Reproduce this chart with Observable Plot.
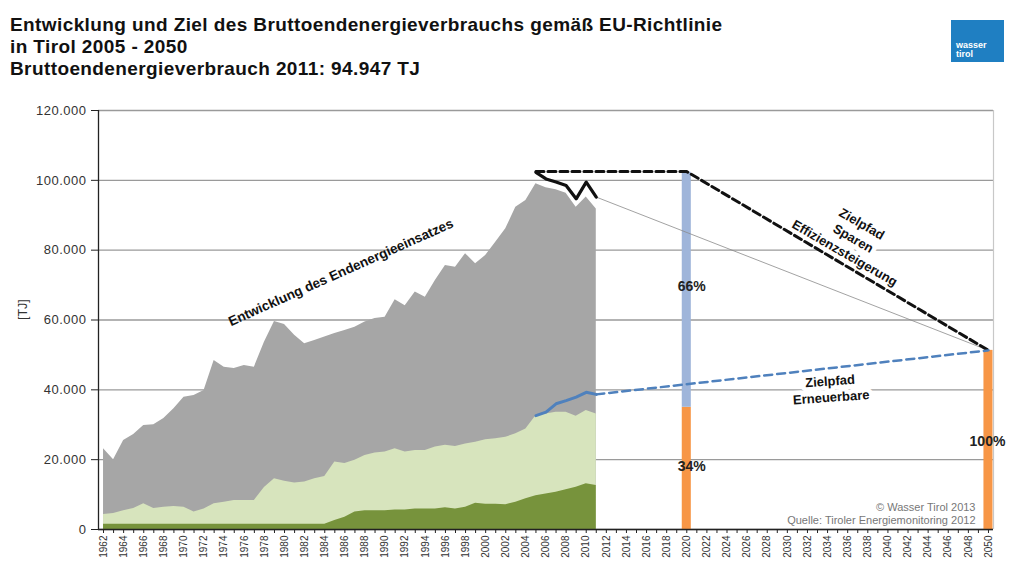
<!DOCTYPE html>
<html>
<head>
<meta charset="utf-8">
<script src="https://cdn.jsdelivr.net/npm/d3@7"></script>
<script src="https://cdn.jsdelivr.net/npm/@observablehq/plot@0.6"></script>
<style>
  html, body { margin: 0; padding: 0; background: #fff; }
  #wrap { position: relative; width: 1010px; height: 565px; overflow: hidden; font-family: "Liberation Sans", Arial, sans-serif; }
  #title { position: absolute; left: 10px; top: 14px; font-size: 19px; letter-spacing: 0.4px; line-height: 22.2px; font-weight: bold; color: #111; }
  #logo { position: absolute; left: 951px; top: 20px; width: 53px; height: 42px; background: #1f7fc2; }
  #logo span { position: absolute; left: 5px; top: 21px; color: #fff; font-size: 9px; line-height: 8.5px; font-weight: bold; }
  #chart { position: absolute; left: 0; top: 90px; }
  g[aria-label="y-axis tick label"] text { letter-spacing: 0.5px; }
</style>
</head>
<body>
<div id="wrap">
  <div id="title">Entwicklung und Ziel des Bruttoendenergieverbrauchs gemäß EU-Richtlinie<br>in Tirol 2005 - 2050<br>Bruttoendenergieverbrauch 2011: 94.947 TJ</div>
  <div id="logo"><span>wasser<br>tirol</span></div>
  <div id="chart"></div>
</div>
<script>
// ---- data ----
const years = [1962,1963,1964,1965,1966,1967,1968,1969,1970,1971,1972,1973,1974,1975,1976,1977,1978,1979,1980,1981,1982,1983,1984,1985,1986,1987,1988,1989,1990,1991,1992,1993,1994,1995,1996,1997,1998,1999,2000,2001,2002,2003,2004,2005,2006,2007,2008,2009,2010,2011];
const totalUse = [23100,20000,25500,27200,29800,30000,31800,34600,37900,38400,39800,48400,46500,46100,47000,46500,53600,59600,58700,55600,53200,54100,55100,56100,57000,57900,59400,60400,60800,65800,64100,68000,66500,71300,75600,75100,79000,76100,78500,82300,86100,92300,94200,99000,97900,97300,96300,92300,95200,91800];
const lightGreen = [4300,4600,5400,6000,7400,6000,6400,6600,6400,5000,5900,7400,7800,8300,8300,8300,12000,14500,13800,13300,13600,14500,15200,19300,18900,19800,21200,21900,22200,23100,22200,22600,22600,23600,24100,23800,24500,25000,25700,26000,26400,27400,28800,32600,33100,33600,33600,32400,34100,33100];
const darkGreen = [1500,1500,1500,1500,1500,1500,1500,1500,1500,1500,1500,1500,1500,1500,1500,1500,1500,1500,1500,1500,1500,1500,1500,2600,3500,5000,5400,5400,5400,5600,5600,5900,5900,5900,6200,5900,6400,7500,7200,7200,7100,7800,8800,9700,10200,10700,11400,12100,13100,12600];

const recentYears = [2005,2006,2007,2008,2009,2010,2011];
const consumptionLine = [102300,100400,99500,98500,94700,99500,95200];
const renewablesLine = [32600,33600,36000,36900,37900,39300,38700];

const efficiencyPathYears = [2005,2020,2050];
const efficiencyPathValues = [102500,102500,51300];
const trendYears = [2011,2050];
const trendValues = [95200,51300];
const renewablePathYears = [2011,2050];
const renewablePathValues = [38700,51300];

const barYears = [2020,2020,2050];
const barLow = [0,35000,0];
const barHigh = [35000,102300,51300];
const barKind = ["renew","saving","renew"];

const pctLabels = ["66%","34%","100%"];
const pctYears = [2020.5,2020.5,2049.9];
const pctValues = [69600,18000,25200];

const yTicks = [0,20000,40000,60000,80000,100000,120000];
const xDomain = [1961.5, 2050.5];
const axisYears = d3.range(1962, 2051);

// ---- tables ----
const history = years.map((y,i) => ({year: y, total: totalUse[i], mid: lightGreen[i], low: darkGreen[i]}));
const recent = recentYears.map((y,i) => ({year: y, cons: consumptionLine[i], ren: renewablesLine[i]}));
const effPath = efficiencyPathYears.map((y,i) => ({year: y, v: efficiencyPathValues[i]}));
const trend = trendYears.map((y,i) => ({year: y, v: trendValues[i]}));
const renPath = renewablePathYears.map((y,i) => ({year: y, v: renewablePathValues[i]}));
const bars = barYears.map((y,i) => ({year: y, lo: barLow[i], hi: barHigh[i], kind: barKind[i]}));
const pcts = pctLabels.map((t,i) => ({t, year: pctYears[i], v: pctValues[i]}));

const fmt = d => d3.format(",")(d).replace(/,/g, ".");
const font = "Liberation Sans, Arial, sans-serif";

const sparenNote = [{year: 2036.6, v: 83600, t: "Zielpfad\nSparen\nEffizienzsteigerung"}];
const erneuerNote = [{year: 2034.3, v: 40400, t: "Zielpfad\nErneuerbare"}];
const entwNote = [{year: 1985.6, v: 73600, t: "Entwicklung des Endenergieeinsatzes"}];

const chart = Plot.plot({
  width: 1010,
  height: 475,
  marginLeft: 98,
  marginRight: 17,
  marginTop: 20,
  marginBottom: 36,
  style: {fontFamily: font, background: "#fff", color: "#333", overflow: "visible"},
  x: {type: "linear", domain: xDomain},
  y: {domain: [0, 120000]},
  marks: [
    Plot.ruleY(yTicks, {stroke: "#9a9a9a", strokeWidth: 1.3}),
    Plot.ruleX([xDomain[1]], {stroke: "#c8c8c8", strokeWidth: 1.2}),
    Plot.areaY(history, {x: "year", y: "total", fill: "#a6a6a6"}),
    Plot.areaY(history, {x: "year", y: "mid", fill: "#d7e4bd"}),
    Plot.areaY(history, {x: "year", y: "low", fill: "#77933c"}),
    Plot.rectY(bars, {x1: d => d.year - 0.45, x2: d => d.year + 0.45, y1: "lo", y2: "hi",
      fill: d => d.kind === "renew" ? "#f79646" : "#9fb5da"}),
    Plot.line(trend, {x: "year", y: "v", stroke: "#8a8a8a", strokeWidth: 0.8}),
    // white halos behind annotation texts (interrupt gridlines)
    Plot.text(sparenNote, {x: "year", y: "v", text: "t", rotate: 30, fontSize: 13, fontWeight: "bold", lineHeight: 1.3,
      fill: "none", stroke: "white", strokeWidth: 9}),
    Plot.text(erneuerNote, {x: "year", y: "v", text: "t", rotate: -4, fontSize: 13, fontWeight: "bold", lineHeight: 1.25,
      fill: "none", stroke: "white", strokeWidth: 9}),
    Plot.line(effPath, {x: "year", y: "v", stroke: "#111", strokeWidth: 3, strokeDasharray: "8,4"}),
    Plot.line(renPath, {x: "year", y: "v", stroke: "#4f81bd", strokeWidth: 2.5, strokeDasharray: "8,5"}),
    Plot.line(recent, {x: "year", y: "ren", stroke: "#4f81bd", strokeWidth: 3}),
    Plot.line(recent, {x: "year", y: "cons", stroke: "#111", strokeWidth: 3.2}),
    Plot.text(sparenNote, {x: "year", y: "v", text: "t", rotate: 30, fontSize: 13, fontWeight: "bold", lineHeight: 1.3, fill: "#111"}),
    Plot.text(erneuerNote, {x: "year", y: "v", text: "t", rotate: -4, fontSize: 13, fontWeight: "bold", lineHeight: 1.25, fill: "#111"}),
    Plot.text(entwNote, {x: "year", y: "v", text: "t", rotate: -24, fontSize: 13.5, fontWeight: "bold", fill: "#111"}),
    Plot.text(pcts, {x: "year", y: "v", text: "t", fontSize: 14, fontWeight: "bold", fill: "#222"}),
    Plot.text(["© Wasser Tirol 2013\nQuelle: Tiroler Energiemonitoring 2012"], {frameAnchor: "bottom-right", textAnchor: "end",
      lineAnchor: "bottom", dx: -18, dy: -6, fontSize: 11, fill: "#777", lineHeight: 1.1}),
    Plot.ruleY([0], {stroke: "#222", strokeWidth: 1.3}),
    Plot.ruleX([xDomain[0]], {stroke: "#222", strokeWidth: 1.3}),
    Plot.axisY({ticks: yTicks, tickFormat: fmt, tickSize: 7, tickPadding: 5, fontSize: 13, label: null, stroke: "#222"}),
    Plot.axisX({ticks: axisYears, tickFormat: d => d % 2 === 0 ? String(d) : "", tickRotate: -90, tickSize: 4, tickPadding: 2, fontSize: 10, label: null, stroke: "#222"}),
    Plot.text(["[TJ]"], {frameAnchor: "left", dx: -76, rotate: -90, fontSize: 12.5, fill: "#333"})
  ]
});
document.getElementById("chart").appendChild(chart);
</script>
</body>
</html>
